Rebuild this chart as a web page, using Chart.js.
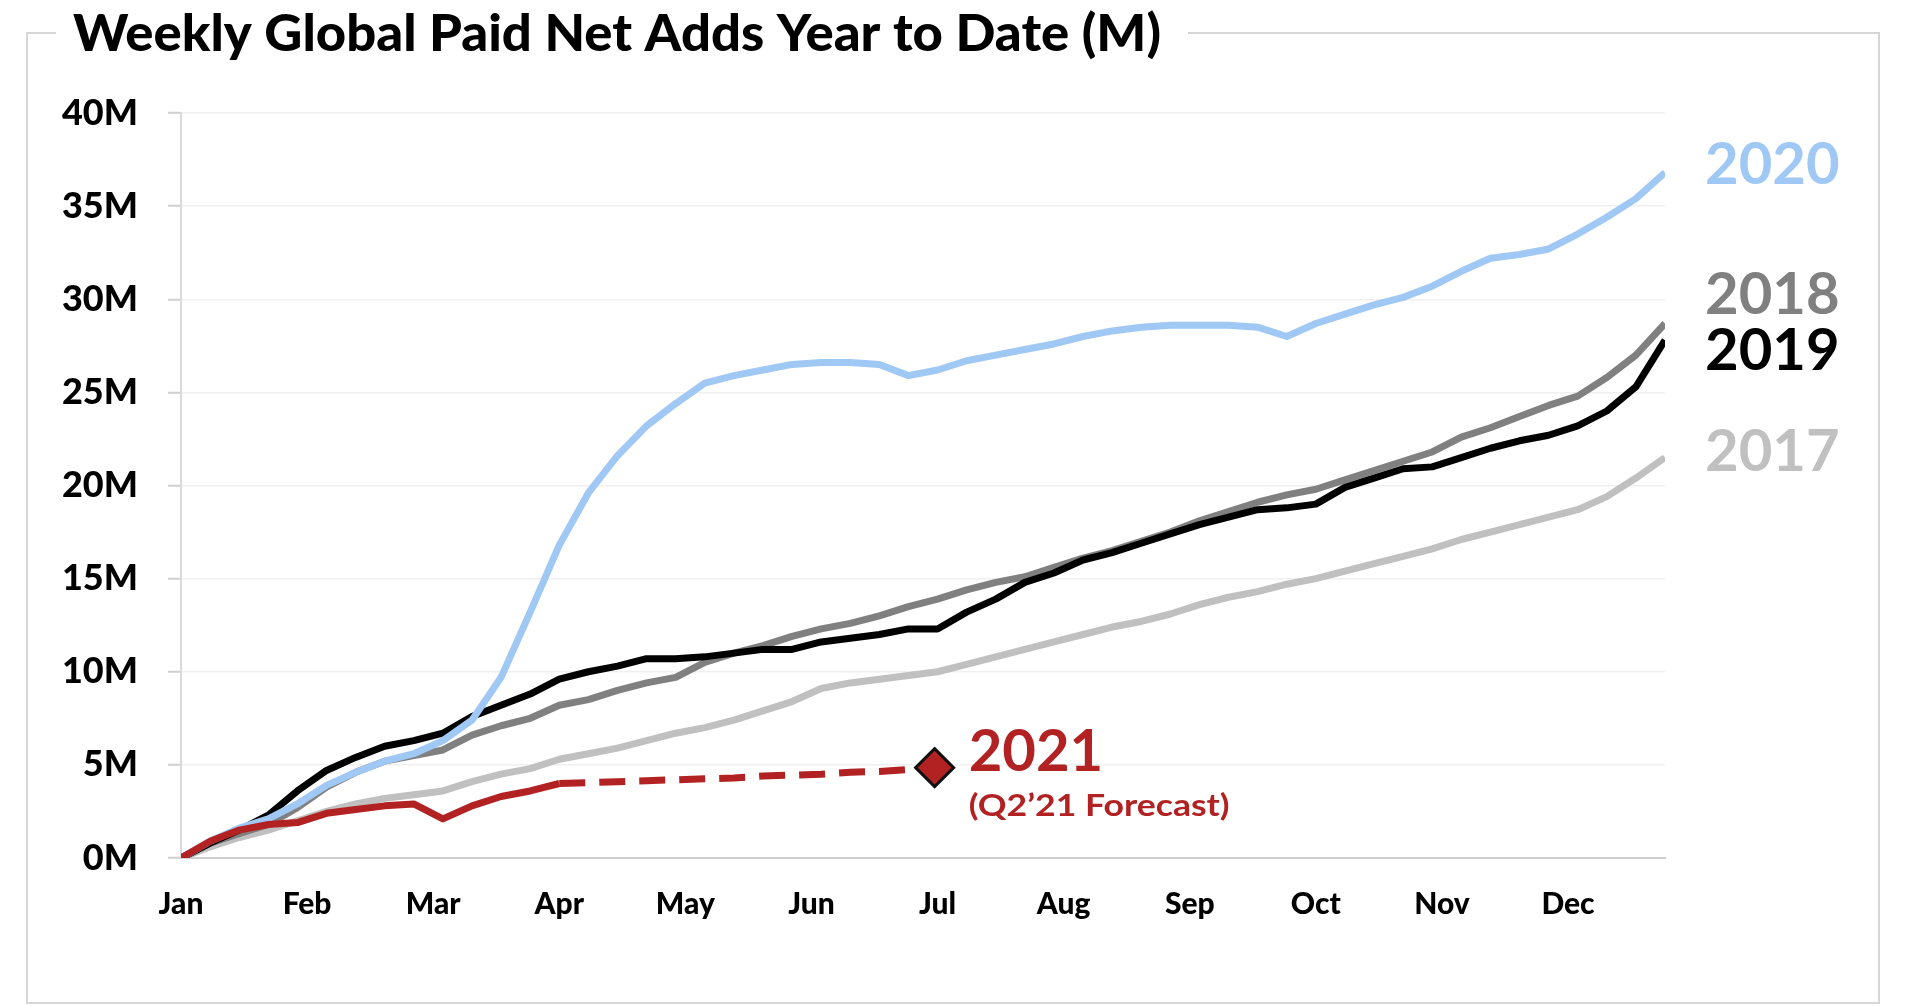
<!DOCTYPE html>
<html>
<head>
<meta charset="utf-8">
<script src="https://cdn.jsdelivr.net/npm/chart.js@4.4.1/dist/chart.umd.min.js"></script>
<style>
  html, body { margin: 0; padding: 0; background: #fff; }
  canvas { display: block; }
</style>
</head>
<body>
<canvas id="c" width="1920" height="1006"></canvas>
<script>
// ---- data (weekly cumulative paid net adds, millions) ----
const monthLabels = ["Jan","Feb","Mar","Apr","May","Jun","Jul","Aug","Sep","Oct","Nov","Dec"];
const yTickValues = [0,5,10,15,20,25,30,35,40];

const y2017 = [0,0.6,1.1,1.5,2.0,2.5,2.9,3.2,3.4,3.6,4.1,4.5,4.8,5.3,5.6,5.9,6.3,6.7,7.0,7.4,7.9,8.4,9.1,9.4,9.6,9.8,10.0,10.4,10.8,11.2,11.6,12.0,12.4,12.7,13.1,13.6,14.0,14.3,14.7,15.0,15.4,15.8,16.2,16.6,17.1,17.5,17.9,18.3,18.7,19.4,20.4,21.5];
const y2018 = [0,0.8,1.3,1.8,2.7,3.8,4.6,5.2,5.5,5.8,6.6,7.1,7.5,8.2,8.5,9.0,9.4,9.7,10.5,11.0,11.4,11.9,12.3,12.6,13.0,13.5,13.9,14.4,14.8,15.1,15.6,16.1,16.5,17.0,17.5,18.1,18.6,19.1,19.5,19.8,20.3,20.8,21.3,21.8,22.6,23.1,23.7,24.3,24.8,25.8,27.0,28.7];
const y2019 = [0,0.8,1.5,2.3,3.6,4.7,5.4,6.0,6.3,6.7,7.6,8.2,8.8,9.6,10.0,10.3,10.7,10.7,10.8,11.0,11.2,11.2,11.6,11.8,12.0,12.3,12.3,13.2,13.9,14.8,15.3,16.0,16.4,16.9,17.4,17.9,18.3,18.7,18.8,19.0,19.9,20.4,20.9,21.0,21.5,22.0,22.4,22.7,23.2,24.0,25.3,27.8];
const y2020 = [0,0.9,1.6,2.1,2.9,3.9,4.6,5.2,5.6,6.3,7.4,9.7,13.2,16.8,19.6,21.6,23.2,24.4,25.5,25.9,26.2,26.5,26.6,26.6,26.5,25.9,26.2,26.7,27.0,27.3,27.6,28.0,28.3,28.5,28.6,28.6,28.6,28.5,28.0,28.7,29.2,29.7,30.1,30.7,31.5,32.2,32.4,32.7,33.5,34.4,35.4,36.8];
const y2021 = [0,0.9,1.5,1.8,1.9,2.4,2.6,2.8,2.9,2.1,2.8,3.3,3.6,4.0];
const forecastWeeks = [13,14,15,16,17,18,19,20,21,22,23,24,25,26];
const forecast2021 = [4.0,4.05,4.1,4.15,4.2,4.25,4.3,4.4,4.45,4.5,4.6,4.65,4.75,4.85];
const forecastPoint = [{x: 25.9, y: 4.85}];

// ---- styles ----
const C2017 = "rgb(192,192,192)";
const C2018 = "rgb(128,128,128)";
const C2019 = "rgb(0,0,0)";
const C2020 = "rgb(160,200,245)";
const C2021 = "rgb(178,34,34)";
const FONT = "Lato, 'Open Sans', sans-serif";
const LW = 7;

const toXY = arr => arr.map((v, i) => ({x: i, y: v}));

const decor = {
  id: "decor",
  beforeDraw(chart) {
    const ctx = chart.ctx;
    ctx.save();
    ctx.fillStyle = "#fff";
    ctx.fillRect(0, 0, chart.width, chart.height);
    // frame with a gap for the title
    ctx.strokeStyle = "#d6d6d6";
    ctx.lineWidth = 2;
    ctx.beginPath();
    ctx.moveTo(56, 33); ctx.lineTo(27, 33); ctx.lineTo(27, 1003);
    ctx.lineTo(1879, 1003); ctx.lineTo(1879, 33); ctx.lineTo(1188, 33);
    ctx.stroke();
    // title (condensed to the reference width)
    ctx.fillStyle = "#000";
    ctx.font = "900 52px " + FONT;
    ctx.textBaseline = "alphabetic";
    const title = "Weekly Global Paid Net Adds Year to Date (M)";
    const w = ctx.measureText(title).width;
    ctx.translate(73, 51);
    ctx.scale(1088 / w, 1);
    ctx.fillText(title, 0, 0);
    ctx.restore();
  },
  afterDraw(chart) {
    const ctx = chart.ctx;
    const xs = chart.scales.x, ys = chart.scales.y;
    const ca = chart.chartArea;
    ctx.save();
    ctx.textBaseline = "middle";
    ctx.textAlign = "left";
    ctx.font = "bold 58px " + FONT;
    const yearLabels = [["2020", C2020, 37.2], ["2018", C2018, 30.2], ["2019", C2019, 27.2], ["2017", C2017, 21.8]];
    yearLabels.forEach(([t, c, v]) => {
      ctx.fillStyle = c;
      ctx.fillText(t, ca.right + 40, ys.getPixelForValue(v));
    });
    const px = xs.getPixelForValue(forecastPoint[0].x) + 34;
    ctx.fillStyle = C2021;
    ctx.fillText("2021", px, ys.getPixelForValue(5.7));
    ctx.font = "bold 30px " + FONT;
    const sub = "(Q2\u201921 Forecast)";
    const sw = ctx.measureText(sub).width;
    ctx.translate(px, ys.getPixelForValue(2.75));
    ctx.scale(261 / sw, 1);
    ctx.fillText(sub, 0, 0);
    ctx.restore();
  }
};

new Chart(document.getElementById("c"), {
  type: "line",
  data: {
    datasets: [
      { label: "2021 forecast point", data: forecastPoint, showLine: false,
        pointStyle: "rectRot", pointRadius: 19, pointBackgroundColor: C2021,
        pointBorderColor: "#111", pointBorderWidth: 3 },
      { label: "2021", data: toXY(y2021), borderColor: C2021, borderWidth: LW, pointRadius: 0 },
      { label: "2021 forecast", data: forecastWeeks.map((w, i) => ({x: w, y: forecast2021[i]})),
        borderColor: C2021, borderWidth: LW, borderDash: [26, 14], pointRadius: 0 },
      { label: "2020", data: toXY(y2020), borderColor: C2020, borderWidth: LW, pointRadius: 0 },
      { label: "2019", data: toXY(y2019), borderColor: C2019, borderWidth: LW, pointRadius: 0 },
      { label: "2018", data: toXY(y2018), borderColor: C2018, borderWidth: LW, pointRadius: 0 },
      { label: "2017", data: toXY(y2017), borderColor: C2017, borderWidth: LW, pointRadius: 0 }
    ]
  },
  options: {
    responsive: false,
    animation: false,
    devicePixelRatio: 1,
    layout: { padding: { top: 113, right: 255, left: 0, bottom: 0 } },
    elements: { line: { tension: 0, borderJoinStyle: "round", borderCapStyle: "butt" } },
    plugins: { legend: { display: false }, tooltip: { enabled: false } },
    scales: {
      x: {
        type: "linear", min: 0, max: 51,
        afterBuildTicks: s => { s.ticks = monthLabels.map((_, i) => ({ value: i * 52 / 12 })); },
        afterFit: s => { s.height = 148; },
        ticks: {
          autoSkip: false, maxRotation: 0,
          callback: (v, i) => monthLabels[i],
          font: { family: FONT, weight: "900", size: 30 }, color: "#000", padding: 28
        },
        grid: { display: false, drawTicks: false },
        border: { display: true, color: "#cfcfcf", width: 2 }
      },
      y: {
        min: 0, max: 40,
        afterBuildTicks: s => { s.ticks = yTickValues.map(v => ({ value: v })); },
        afterFit: s => { s.width = 181; },
        ticks: {
          callback: v => v + "M",
          font: { family: FONT, weight: "900", size: 36 }, color: "#000", padding: 30
        },
        grid: { color: "#f0f0f0", lineWidth: 1.5, tickColor: "#cfcfcf", tickLength: 13, tickWidth: 2 },
        border: { display: true, color: "#dadada", width: 2 }
      }
    }
  },
  plugins: [decor]
});
</script>
</body>
</html>
